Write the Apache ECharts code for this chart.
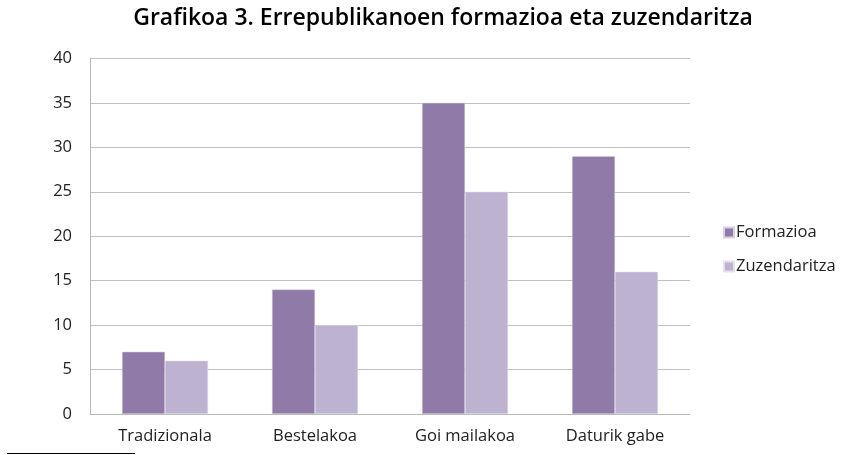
<!DOCTYPE html>
<html><head><meta charset="utf-8">
<script src="https://cdn.jsdelivr.net/npm/echarts@6/dist/echarts.min.js"></script>
<style>html,body{margin:0;padding:0;background:#fff}#c{width:844px;height:455px}</style>
</head><body><div id="c"></div>
<script>
const categories = ['Tradizionala', 'Bestelakoa', 'Goi mailakoa', 'Daturik gabe'];
const formazioa = [7, 14, 35, 29];
const zuzendaritza = [6, 10, 25, 16];
const yTicks = [0, 5, 10, 15, 20, 25, 30, 35, 40];

const chart = echarts.init(document.getElementById('c'));
const font = "'Open Sans', 'Liberation Sans', sans-serif";
chart.setOption({
  animation: false,
  title: {
    text: 'Grafikoa 3. Errepublikanoen formazioa eta zuzendaritza',
    left: 438, top: 2, textAlign: 'center',
    textStyle: { fontFamily: font, fontSize: 23, fontWeight: 600, color: '#000' }
  },
  legend: {
    orient: 'vertical', left: 718, top: 219, itemGap: 17,
    itemWidth: 10, itemHeight: 10, icon: 'rect',
    textStyle: { fontFamily: font, fontSize: 16.5, color: '#222', padding: [0, 0, 0, -3] },
    data: ['Formazioa', 'Zuzendaritza']
  },
  grid: { left: 90, top: 58.4, width: 600, height: 355.6 },
  xAxis: {
    type: 'category', data: categories,
    axisLine: { lineStyle: { color: '#b8b8b8' } },
    axisTick: { show: false },
    axisLabel: { fontFamily: font, fontSize: 16.5, color: '#222', margin: 14 }
  },
  yAxis: {
    type: 'value', min: 0, max: 40, interval: 5,
    axisLine: { show: true, lineStyle: { color: '#b8b8b8' } },
    axisTick: { show: false },
    splitLine: { lineStyle: { color: '#c0c0c0' } },
    axisLabel: { fontFamily: font, fontSize: 16.5, color: '#222', margin: 18,
      formatter: v => yTicks.includes(v) ? String(v) : '' }
  },
  series: [
    { name: 'Formazioa', type: 'bar', data: formazioa, barWidth: 43, barGap: '0%',
      itemStyle: { color: '#8f7aa8', borderColor: '#d9d0e3', borderWidth: 0.5 } },
    { name: 'Zuzendaritza', type: 'bar', data: zuzendaritza, barWidth: 43,
      itemStyle: { color: '#bdb2cf', borderColor: '#e5e0ec', borderWidth: 0.5 } }
  ],
  graphic: [
    { type: 'line', shape: { x1: 7, y1: 453.5, x2: 135, y2: 453.5 }, style: { stroke: '#000', lineWidth: 1 } }
  ]
});
</script></body></html>
